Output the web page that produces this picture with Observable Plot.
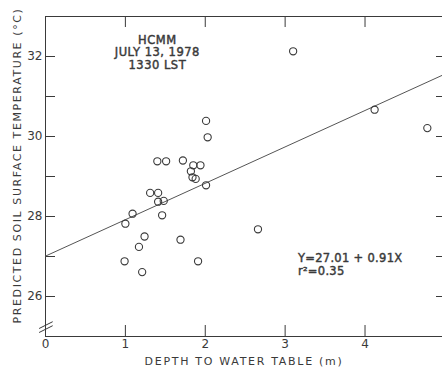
<!DOCTYPE html>
<html>
<head>
<meta charset="utf-8">
<script src="https://cdn.jsdelivr.net/npm/d3@7"></script>
<script src="https://cdn.jsdelivr.net/npm/@observablehq/plot@0.6"></script>
<style>
  html, body { margin: 0; padding: 0; background: #fff; }
  svg { font-family: "DejaVu Sans", sans-serif; }
</style>
</head>
<body>
<div id="chart"></div>
<script>
// Depth to water table (m)
const depth = [3.10, 4.12, 4.78, 2.01, 2.03, 1.40, 1.51, 1.72, 1.85, 1.94, 1.82, 1.84, 1.88, 2.01,
               1.31, 1.41, 1.41, 1.48, 1.46, 1.09, 1.00, 1.24, 1.17, 1.69, 2.66, 0.99, 1.21, 1.91];
// Predicted soil surface temperature (°C)
const temp = [32.13, 30.67, 30.21, 30.39, 29.98, 29.38, 29.38, 29.40, 29.28, 29.28, 29.13, 28.98, 28.94, 28.78,
              28.59, 28.59, 28.37, 28.39, 28.03, 28.07, 27.82, 27.50, 27.24, 27.42, 27.68, 26.88, 26.61, 26.88];
// Regression: Y = 27.01 + 0.91X
const intercept = 27.01;
const slope = 0.91;
const xDomain = [0, 4.97];
const yDomain = [25, 33];
const xTickLabels = [0, 1, 2, 3, 4];
const xTickMarks = [1, 2, 3, 4];
const yTickLabels = [26, 28, 30, 32];
const yTickMarks = [26, 27, 28, 29, 30, 31, 32];
const titleLines = ["HCMM", "JULY 13, 1978", "1330 LST"];
const eqLines = ["Y=27.01 + 0.91X", "r²=0.35"];
const yLabel = "PREDICTED SOIL SURFACE TEMPERATURE (°C)";
const xLabel = "DEPTH TO WATER TABLE (m)";

const points = depth.map((d, i) => ({depth: d, temp: temp[i]}));
const fit = xDomain.map(x => ({x, y: intercept + slope * x}));
const ink = "#3a3a3a";

const chart = Plot.plot({
  width: 442,
  height: 370,
  marginLeft: 45,
  marginRight: 0,
  marginTop: 16,
  marginBottom: 34,
  style: {fontFamily: "DejaVu Sans, sans-serif", color: ink, background: "#fff"},
  x: {domain: xDomain, axis: null},
  y: {domain: yDomain, axis: null},
  marks: [
    // frame lines
    Plot.ruleX([xDomain[0]], {stroke: ink, strokeWidth: 1}),
    Plot.ruleY([yDomain[1]], {stroke: ink, strokeWidth: 1}),
    Plot.ruleY([yDomain[0]], {stroke: ink, strokeWidth: 1}),
    // inward ticks
    Plot.axisY(yTickMarks, {anchor: "left", tickSize: -10, tickFormat: () => "", label: null, stroke: ink}),
    Plot.axisY(yTickMarks, {anchor: "right", tickSize: -7, tickFormat: () => "", label: null, stroke: ink}),
    Plot.axisX(xTickMarks, {anchor: "top", tickSize: -10, tickFormat: () => "", label: null, stroke: ink}),
    Plot.axisX(xTickMarks, {anchor: "bottom", tickSize: -11, tickFormat: () => "", label: null, stroke: ink}),
    // tick labels
    Plot.axisY(yTickLabels, {anchor: "left", tickSize: 0, tickPadding: 3, label: null, fontSize: 12, fill: ink}),
    Plot.axisX(xTickLabels, {anchor: "bottom", tickSize: 0, tickPadding: 3, label: null, fontSize: 12, fill: ink}),
    // axis break marks
    Plot.link([0, 1], {
      x1: d => -0.08, x2: d => 0.09,
      y1: d => 25.1 + d * 0.1, y2: d => 25.27 + d * 0.1,
      stroke: ink, strokeWidth: 1, clip: false
    }),
    // regression line
    Plot.line(fit, {x: "x", y: "y", stroke: "#555", strokeWidth: 1}),
    // points
    Plot.dot(points, {x: "depth", y: "temp", r: 3.6, stroke: ink, strokeWidth: 1.1, fill: "none"}),
    // annotations
    Plot.text([titleLines.join("\n")], {
      x: 1.4, y: 32.1, text: d => d, fontSize: 11.5, lineHeight: 1.08, fill: ink,
      stroke: ink, strokeWidth: 0.45,
      lineAnchor: "middle", textAnchor: "middle"
    }),
    Plot.text([eqLines.join("\n")], {
      x: 3.16, y: 26.9, text: d => d, fontSize: 11.5, lineHeight: 1.1, fill: ink,
      stroke: ink, strokeWidth: 0.45,
      lineAnchor: "top", textAnchor: "start", dy: -7
    }),
    // axis titles
    Plot.text([yLabel], {
      frameAnchor: "left", text: d => d, rotate: -90, dx: -28, dy: -11, fontSize: 11,
      fill: ink, textAnchor: "middle"
    }),
    Plot.text([xLabel], {
      frameAnchor: "bottom", text: d => d, dy: 28, fontSize: 11,
      fill: ink, textAnchor: "middle"
    })
  ]
});
const svg = d3.select(chart);
svg.selectAll("text").each(function () {
  const t = this.textContent;
  if (t === yLabel) d3.select(this).style("letter-spacing", "1.6px");
  else if (t === xLabel) d3.select(this).style("letter-spacing", "1.7px");
});
svg.selectAll("tspan").each(function () {
  const t = this.textContent;
  if (titleLines.includes(t)) d3.select(this).style("letter-spacing", "0.5px");
  if (eqLines.includes(t)) d3.select(this).style("letter-spacing", "0.3px");
});
document.getElementById("chart").appendChild(chart);
</script>
</body>
</html>
